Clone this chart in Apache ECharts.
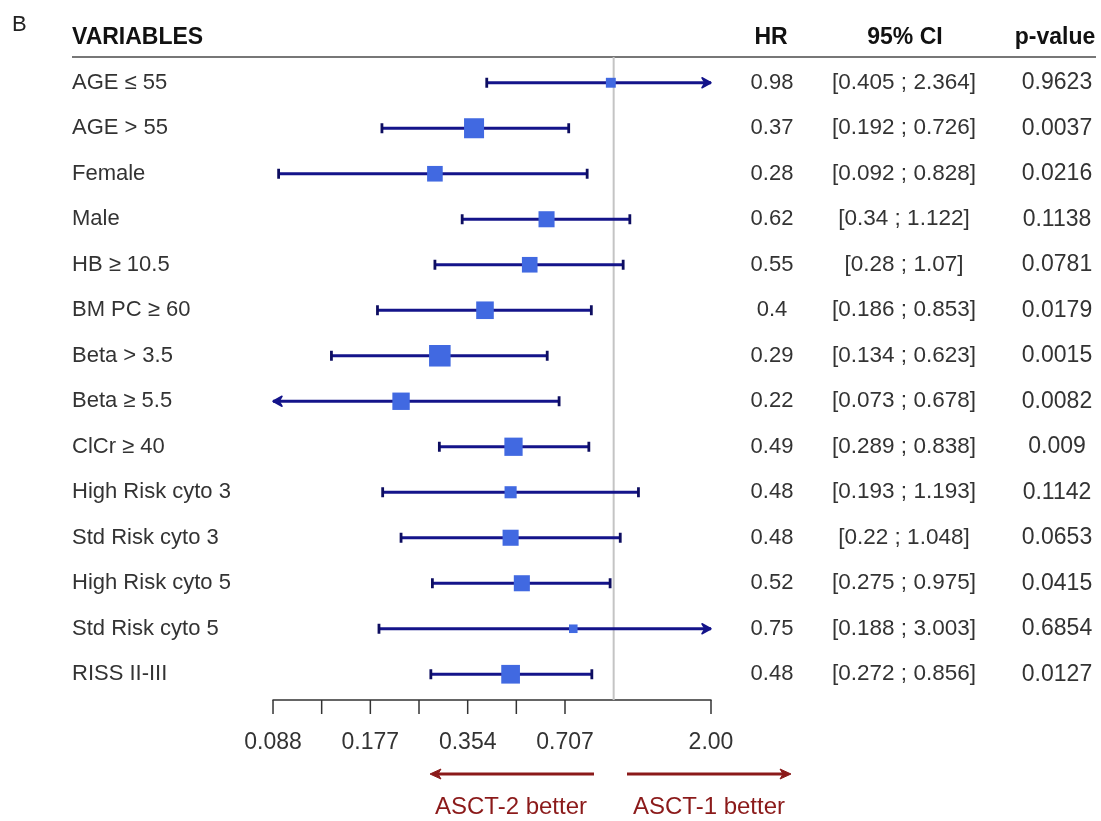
<!DOCTYPE html>
<html>
<head>
<meta charset="utf-8">
<script src="https://cdn.jsdelivr.net/npm/echarts@6/dist/echarts.min.js"></script>
<style>
html,body{margin:0;padding:0;background:#fff;}
#chart{width:1101px;height:821px;}
</style>
</head>
<body>
<div id="chart"></div>
<script>
// ---------------- data ----------------
const categories = ['AGE ≤ 55','AGE > 55','Female','Male','HB ≥ 10.5','BM PC ≥ 60','Beta > 3.5','Beta ≥ 5.5','ClCr ≥ 40','High Risk cyto 3','Std Risk cyto 3','High Risk cyto 5','Std Risk cyto 5','RISS II-III'];
const hr      = [0.98, 0.37, 0.28, 0.62, 0.55, 0.4, 0.29, 0.22, 0.49, 0.48, 0.48, 0.52, 0.75, 0.48];
const ciLow   = [0.405, 0.192, 0.092, 0.34, 0.28, 0.186, 0.134, 0.073, 0.289, 0.193, 0.22, 0.275, 0.188, 0.272];
const ciHigh  = [2.364, 0.726, 0.828, 1.122, 1.07, 0.853, 0.623, 0.678, 0.838, 1.193, 1.048, 0.975, 3.003, 0.856];
const boxWeight = [0.45, 0.91, 0.71, 0.73, 0.71, 0.8, 0.98, 0.79, 0.83, 0.55, 0.73, 0.73, 0.39, 0.85];
const hrText  = ['0.98','0.37','0.28','0.62','0.55','0.4','0.29','0.22','0.49','0.48','0.48','0.52','0.75','0.48'];
const ciText  = ['[0.405 ; 2.364]','[0.192 ; 0.726]','[0.092 ; 0.828]','[0.34 ; 1.122]','[0.28 ; 1.07]','[0.186 ; 0.853]','[0.134 ; 0.623]','[0.073 ; 0.678]','[0.289 ; 0.838]','[0.193 ; 1.193]','[0.22 ; 1.048]','[0.275 ; 0.975]','[0.188 ; 3.003]','[0.272 ; 0.856]'];
const pValues = ['0.9623','0.0037','0.0216','0.1138','0.0781','0.0179','0.0015','0.0082','0.009','0.1142','0.0653','0.0415','0.6854','0.0127'];
const tickValues = [0.0884, 0.125, 0.1768, 0.25, 0.3536, 0.5, 0.7071, 2.0];
const tickLabels = ['0.088', '', '0.177', '', '0.354', '', '0.707', '2.00'];
const refValue = 1;
const xMin = Math.pow(2, -3.5);
const xMax = 2;

// ---------------- styles ----------------
const FONT = "'Liberation Sans', Arial, Helvetica, sans-serif";
const TXT = '#333333';
const LINE = '#14148a';
const BOX = '#4169e1';
const RED = '#8b1a1a';
const MAXBOX = 22;

const ciData = categories.map((c, i) => [ciLow[i], ciHigh[i], hr[i], boxWeight[i], i]);
const tickData = tickValues.map((v, i) => [v, 0, i]);

function renderCI(params, api) {
  const lo = api.value(0), hi = api.value(1), h = api.value(2), w = api.value(3), row = api.value(4);
  const loClip = lo < xMin, hiClip = hi > xMax;
  const p1 = api.coord([loClip ? xMin : lo, row]);
  const p2 = api.coord([hiClip ? xMax : hi, row]);
  const pc = api.coord([h, row]);
  const y = p1[1];
  const children = [];
  const ls = {stroke: LINE, lineWidth: 2.8};
  children.push({type: 'line', shape: {x1: p1[0], y1: y, x2: p2[0], y2: y}, style: ls});
  if (loClip) {
    children.push({type: 'polygon', shape: {points: [[p1[0], y], [p1[0] + 9, y - 5], [p1[0] + 6, y], [p1[0] + 9, y + 5]]}, style: {fill: LINE, stroke: LINE, lineWidth: 1.5, lineJoin: 'round'}});
  } else {
    children.push({type: 'line', shape: {x1: p1[0], y1: y - 5, x2: p1[0], y2: y + 5}, style: {stroke: '#0d0d60', lineWidth: 2.8}});
  }
  if (hiClip) {
    children.push({type: 'polygon', shape: {points: [[p2[0], y], [p2[0] - 9, y - 5], [p2[0] - 6, y], [p2[0] - 9, y + 5]]}, style: {fill: LINE, stroke: LINE, lineWidth: 1.5, lineJoin: 'round'}});
  } else {
    children.push({type: 'line', shape: {x1: p2[0], y1: y - 5, x2: p2[0], y2: y + 5}, style: {stroke: '#0d0d60', lineWidth: 2.8}});
  }
  const s = w * MAXBOX;
  children.push({type: 'rect', shape: {x: pc[0] - s / 2, y: y - s / 2, width: s, height: s}, style: {fill: BOX}});
  return {type: 'group', children: children};
}

function renderTick(params, api) {
  const v = api.value(0), idx = api.value(2);
  const cs = params.coordSys;
  const x = api.coord([v, 0])[0];
  const y0 = cs.y + cs.height + 3;
  const children = [{type: 'line', shape: {x1: x, y1: y0, x2: x, y2: y0 + 14}, style: {stroke: '#333', lineWidth: 1.5}}];
  const lab = tickLabels[idx];
  if (lab) {
    children.push({type: 'text', style: {text: lab, x: x, y: y0 + 43, align: 'center', verticalAlign: 'middle', font: '23px ' + FONT, fill: TXT}});
  }
  return {type: 'group', children: children};
}

function renderRef(params, api) {
  const cs = params.coordSys;
  const x = api.coord([api.value(0), 0])[0];
  return {type: 'line', shape: {x1: x, y1: cs.y - 3, x2: x, y2: cs.y + cs.height + 3}, style: {stroke: '#c4c4c4', lineWidth: 2}};
}

function sideAxis(data, margin, size) {
  return {
    type: 'category', data: data, inverse: true, position: 'right', gridIndex: 0,
    axisLine: {show: false}, axisTick: {show: false}, splitLine: {show: false},
    axisLabel: {interval: 0, align: 'center', margin: margin, fontSize: size, color: TXT, fontFamily: FONT}
  };
}

const chart = echarts.init(document.getElementById('chart'), null, {renderer: 'canvas'});
const option = {
  animation: false,
  backgroundColor: '#ffffff',
  grid: {left: 273, right: 390, top: 60, height: 637},
  xAxis: {
    type: 'log', logBase: 2, min: xMin, max: xMax, offset: 3,
    axisLine: {show: true, lineStyle: {color: '#333', width: 1.5}},
    axisTick: {show: false}, axisLabel: {show: false}, splitLine: {show: false}
  },
  yAxis: [
    {
      type: 'category', data: categories, inverse: true,
      axisLine: {show: false}, axisTick: {show: false}, splitLine: {show: false},
      axisLabel: {interval: 0, align: 'left', margin: 201, fontSize: 22, color: TXT, fontFamily: FONT}
    },
    sideAxis(hrText, 61, 22),
    sideAxis(ciText, 193, 22.5),
    sideAxis(pValues, 346, 23)
  ],
  series: [
    {type: 'custom', renderItem: renderRef, data: [[refValue, 0]], encode: {x: 0, y: 1}, z: 1, silent: true},
    {type: 'custom', renderItem: renderTick, data: tickData, encode: {x: 0, y: 1}, z: 2, silent: true},
    {type: 'custom', renderItem: renderCI, data: ciData, encode: {x: [0, 1, 2], y: 4}, z: 3, silent: true}
  ],
  graphic: [
    {type: 'text', x: 12, y: 25, style: {text: 'B', font: '22px ' + FONT, fill: '#222', verticalAlign: 'middle', align: 'left'}},
    {type: 'text', x: 72, y: 38, style: {text: 'VARIABLES', font: 'bold 23px ' + FONT, fill: '#111', verticalAlign: 'middle', align: 'left'}},
    {type: 'text', x: 771, y: 38, style: {text: 'HR', font: 'bold 23px ' + FONT, fill: '#111', verticalAlign: 'middle', align: 'center'}},
    {type: 'text', x: 905, y: 38, style: {text: '95% CI', font: 'bold 23px ' + FONT, fill: '#111', verticalAlign: 'middle', align: 'center'}},
    {type: 'text', x: 1055, y: 38, style: {text: 'p-value', font: 'bold 23px ' + FONT, fill: '#111', verticalAlign: 'middle', align: 'center'}},
    {type: 'line', shape: {x1: 72, y1: 57, x2: 1096, y2: 57}, style: {stroke: '#777', lineWidth: 2}},
    {type: 'line', shape: {x1: 594, y1: 774, x2: 436, y2: 774}, style: {stroke: RED, lineWidth: 3}},
    {type: 'polygon', shape: {points: [[430, 774], [441, 769], [438, 774], [441, 779]]}, style: {fill: RED, stroke: RED, lineWidth: 1}},
    {type: 'line', shape: {x1: 627, y1: 774, x2: 784, y2: 774}, style: {stroke: RED, lineWidth: 3}},
    {type: 'polygon', shape: {points: [[791, 774], [780, 769], [783, 774], [780, 779]]}, style: {fill: RED, stroke: RED, lineWidth: 1}},
    {type: 'text', x: 511, y: 807, style: {text: 'ASCT-2 better', font: '24px ' + FONT, fill: RED, verticalAlign: 'middle', align: 'center'}},
    {type: 'text', x: 709, y: 807, style: {text: 'ASCT-1 better', font: '24px ' + FONT, fill: RED, verticalAlign: 'middle', align: 'center'}}
  ]
};
chart.setOption(option);
</script>
</body>
</html>
